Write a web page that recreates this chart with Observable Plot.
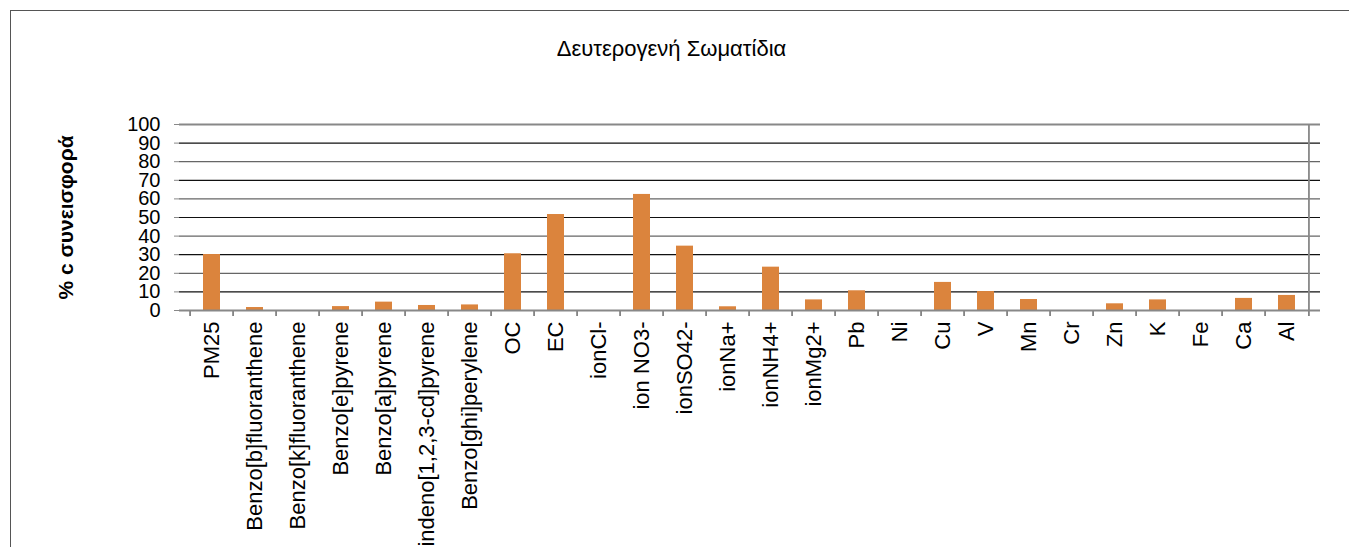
<!DOCTYPE html>
<html>
<head>
<meta charset="utf-8">
<script src="https://cdn.jsdelivr.net/npm/d3@7"></script>
<script src="https://cdn.jsdelivr.net/npm/@observablehq/plot@0.6"></script>
<style>
  html, body { margin: 0; padding: 0; background: #fff; }
  #wrap { position: relative; width: 1349px; height: 547px; overflow: hidden; font-family: "Liberation Sans", Arial, sans-serif; }
  #border { position: absolute; left: 10px; top: 10px; right: -5px; bottom: -5px; border-top: 1.5px solid #555; border-left: 1.5px solid #555; pointer-events: none; }
  #title { position: absolute; left: 0; width: 1343px; top: 36px; text-align: center; font-size: 22px; line-height: 26px; color: #000; }
  #chart { position: absolute; left: 0; top: 0; }
  #chart svg [aria-label="y-axis label"] text { font-weight: bold; font-size: 21px; }
</style>
</head>
<body>
<div id="wrap">
  <div id="chart"></div>
  <div id="border"></div>
  <div id="title">Δευτερογενή Σωματίδια</div>
</div>
<script>
const categories = ["PM25", "Benzo[b]fluoranthene", "Benzo[k]fluoranthene", "Benzo[e]pyrene", "Benzo[a]pyrene",
  "indeno[1,2,3-cd]pyrene", "Benzo[ghi]perylene", "OC", "EC", "ionCl-", "ion NO3-", "ionSO42-", "ionNa+",
  "ionNH4+", "ionMg2+", "Pb", "Ni", "Cu", "V", "Mn", "Cr", "Zn", "K", "Fe", "Ca", "Al"];
const values = [30.1, 1.6, 0, 2.1, 4.5, 2.7, 3.0, 30.5, 51.6, 0, 62.4, 34.6, 2.0,
  23.3, 5.7, 10.6, 0, 15.1, 10.2, 5.9, 0, 3.6, 5.7, 0, 6.5, 8.1];
const yTicks = [0, 10, 20, 30, 40, 50, 60, 70, 80, 90, 100];
const yLabel = "% c συνεισφορά";

const data = categories.map((c, i) => ({category: c, value: values[i]}));

const W = 1349, H = 547, mL = 179, mR = 29;
const step = (W - mL - mR) / categories.length;

const plot = Plot.plot({
  width: W,
  height: H,
  marginLeft: mL,
  marginRight: mR,
  marginTop: 124,
  marginBottom: 237,
  style: {fontFamily: "'Liberation Sans', Arial, sans-serif", color: "#000", background: "transparent"},
  x: {domain: categories, paddingInner: 0.6, paddingOuter: 0.3},
  y: {domain: [0, 100]},
  marks: [
    Plot.ruleY(yTicks.filter(t => t > 0 && t < 100), {y: d => d, stroke: (d, i) => i % 2 ? "#666" : "#111", strokeWidth: 1.2}),
    Plot.ruleY([100], {stroke: "#888", strokeWidth: 1.8}),
    Plot.barY(data, {x: "category", y: "value", fill: "#DB843D"}),
    Plot.ruleX(categories, {x: d => d, dx: -step / 2, y1: 0, y2: -3.2, stroke: "#444", strokeWidth: 1.2}),
    Plot.ruleX([categories[categories.length - 1]], {x: d => d, dx: step / 2, y1: 0, y2: -3.2, stroke: "#444", strokeWidth: 1.2}),
    Plot.ruleX([categories[categories.length - 1]], {x: d => d, dx: step / 2, y1: 0, y2: 100, stroke: "#888", strokeWidth: 1.8}),
    Plot.ruleY([0], {stroke: "#888", strokeWidth: 1.8}),
    Plot.axisY({ticks: yTicks, tickSize: 5, tickPadding: 14, fontSize: 20, stroke: "#888",
      label: yLabel, labelAnchor: "center", labelOffset: 121, labelArrow: "none"}),
    Plot.axisX({tickSize: 0, tickRotate: -90, tickPadding: 11, fontSize: 22, label: null}),
    Plot.ruleX([0], {x: () => 0, frameAnchor: "left", stroke: "#888", strokeWidth: 1.8})
  ]
});
document.getElementById("chart").appendChild(plot);
</script>
</body>
</html>
